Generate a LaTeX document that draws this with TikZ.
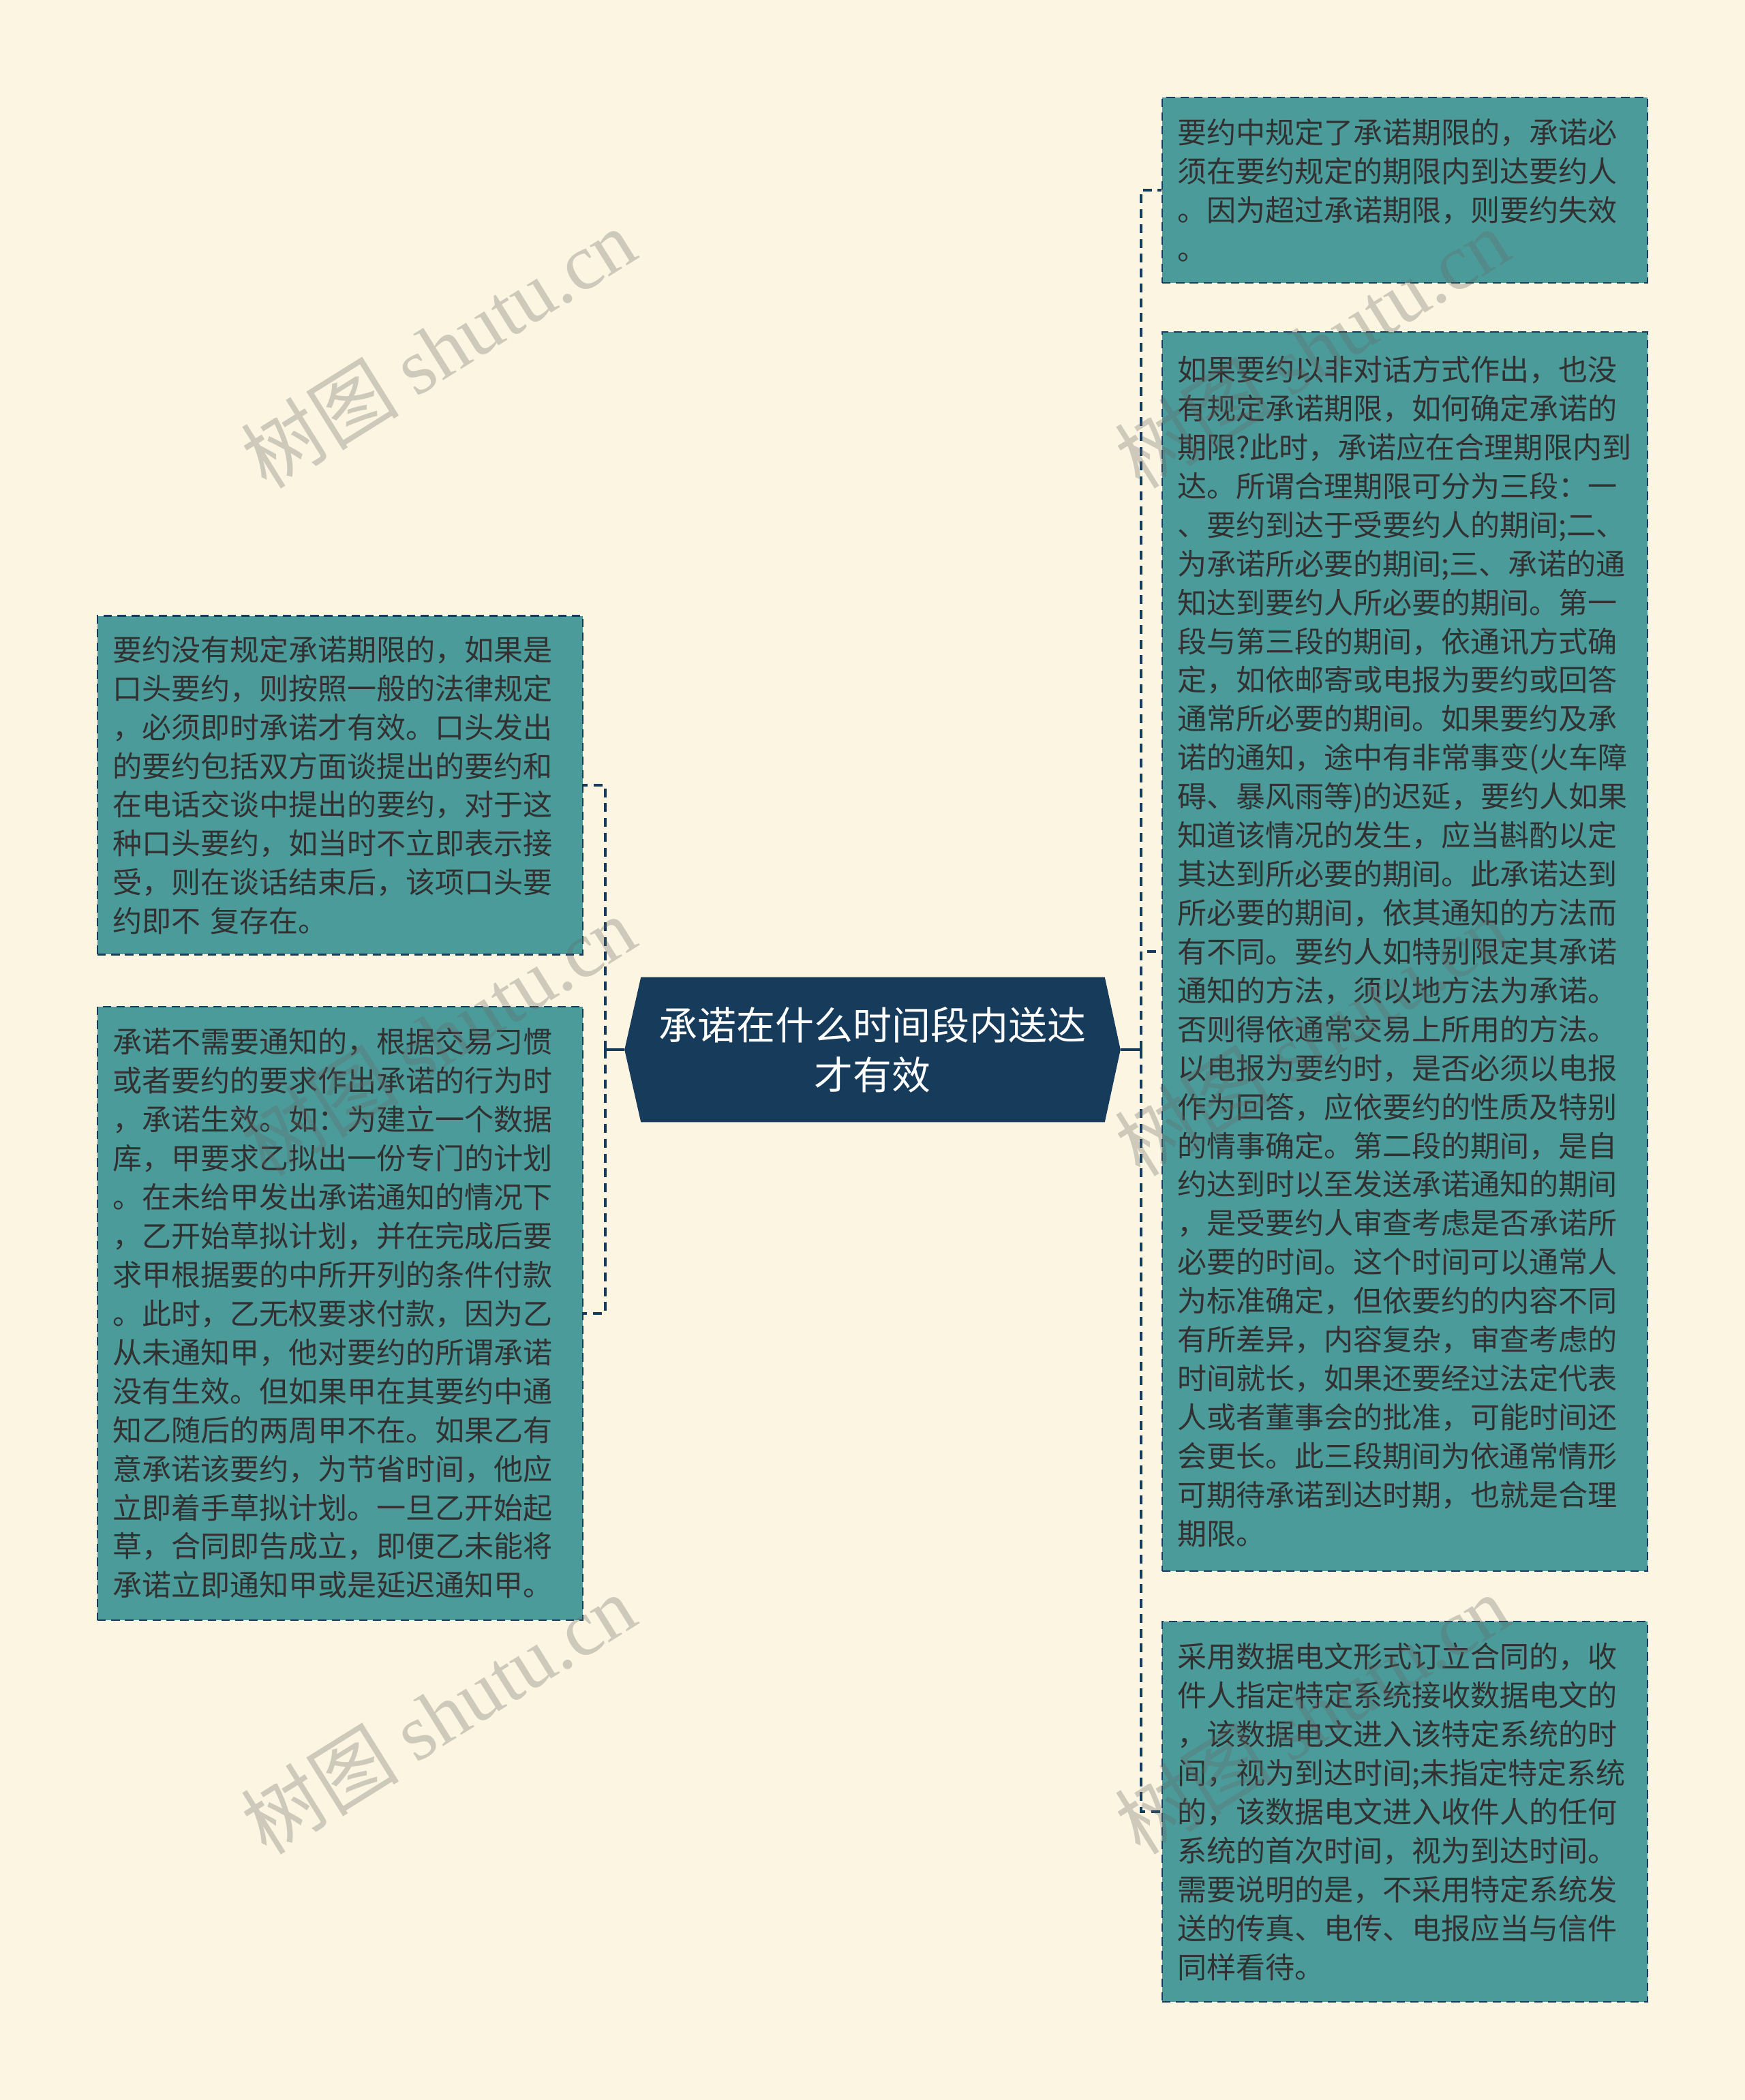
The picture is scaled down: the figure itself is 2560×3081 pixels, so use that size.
\documentclass[tikz,border=0pt]{standalone}
\usepackage{fontspec}
\setmainfont{Noto Sans CJK SC}
\newfontfamily\wmserif{Liberation Serif}
\usetikzlibrary{backgrounds}
\definecolor{paper}{HTML}{FBF5E1}
\definecolor{navy}{HTML}{173B5B}
\definecolor{boxteal}{HTML}{4C9B9B}
\definecolor{ink}{HTML}{313131}
\definecolor{wmgray}{HTML}{646464}

\begin{document}
\begin{tikzpicture}[x=0.02cm,y=-0.02cm,
	leaf/.style={draw=navy,line width=1.4pt,dash pattern=on 7pt off 4.5pt,fill=boxteal,text=ink,
		text width=13.36cm,align=left,inner xsep=0.44cm,inner ysep=0pt,
		font=\fontsize{24.5pt}{32.4pt}\selectfont},
	root/.style={text=white,text width=13cm,align=center,inner sep=0pt,
		minimum width=14.54cm,minimum height=4.24cm,
		font=\fontsize{32.4pt}{41.5pt}\selectfont},
	stem/.style={draw=navy,line width=2.6pt},
	link/.style={draw=navy,line width=2.6pt,dash pattern=on 7.4pt off 5pt},
	wmark/.style={text=wmgray,opacity=0.3,rotate=32,font=\fontsize{66pt}{70pt}\selectfont}]
	    \node[root] (root) at (1280,1540) {承诺在什么时间段内送达\\才有效};
	    \node[leaf,minimum height=5.44cm] (r1) at (2061,279) {要约中规定了承诺期限的，承诺必\\
须在要约规定的期限内到达要约人\\
。因为超过承诺期限，则要约失效\\
。};
	    \node[leaf,minimum height=36.36cm] (r2) at (2061,1396) {如果要约以非对话方式作出，也没\\
有规定承诺期限，如何确定承诺的\\
期限?此时，承诺应在合理期限内到\\
达。所谓合理期限可分为三段：一\\
、要约到达于受要约人的期间;二、\\
为承诺所必要的期间;三、承诺的通\\
知达到要约人所必要的期间。第一\\
段与第三段的期间，依通讯方式确\\
定，如依邮寄或电报为要约或回答\\
通常所必要的期间。如果要约及承\\
诺的通知，途中有非常事变(火车障\\
碍、暴风雨等)的迟延，要约人如果\\
知道该情况的发生，应当斟酌以定\\
其达到所必要的期间。此承诺达到\\
所必要的期间，依其通知的方法而\\
有不同。要约人如特别限定其承诺\\
通知的方法，须以地方法为承诺。\\
否则得依通常交易上所用的方法。\\
以电报为要约时，是否必须以电报\\
作为回答，应依要约的性质及特别\\
的情事确定。第二段的期间，是自\\
约达到时以至发送承诺通知的期间\\
，是受要约人审查考虑是否承诺所\\
必要的时间。这个时间可以通常人\\
为标准确定，但依要约的内容不同\\
有所差异，内容复杂，审查考虑的\\
时间就长，如果还要经过法定代表\\
人或者董事会的批准，可能时间还\\
会更长。此三段期间为依通常情形\\
可期待承诺到达时期，也就是合理\\
期限。};
	    \node[leaf,minimum height=11.16cm] (r3) at (2061,2658) {采用数据电文形式订立合同的，收\\
件人指定特定系统接收数据电文的\\
，该数据电文进入该特定系统的时\\
间，视为到达时间;未指定特定系统\\
的，该数据电文进入收件人的任何\\
系统的首次时间，视为到达时间。\\
需要说明的是，不采用特定系统发\\
送的传真、电传、电报应当与信件\\
同样看待。};
	    \node[leaf,minimum height=9.94cm] (l1) at (499,1152) {要约没有规定承诺期限的，如果是\\
口头要约，则按照一般的法律规定\\
，必须即时承诺才有效。口头发出\\
的要约包括双方面谈提出的要约和\\
在电话交谈中提出的要约，对于这\\
种口头要约，如当时不立即表示接\\
受，则在谈话结束后，该项口头要\\
约即不 复存在。};
	    \node[leaf,minimum height=18cm] (l2) at (499,1927) {承诺不需要通知的，根据交易习惯\\
或者要约的要求作出承诺的行为时\\
，承诺生效。如：为建立一个数据\\
库，甲要求乙拟出一份专门的计划\\
。在未给甲发出承诺通知的情况下\\
，乙开始草拟计划，并在完成后要\\
求甲根据要的中所开列的条件付款\\
。此时，乙无权要求付款，因为乙\\
从未通知甲，他对要约的所谓承诺\\
没有生效。但如果甲在其要约中通\\
知乙随后的两周甲不在。如果乙有\\
意承诺该要约，为节省时间，他应\\
立即着手草拟计划。一旦乙开始起\\
草，合同即告成立，即便乙未能将\\
承诺立即通知甲或是延迟通知甲。};
	    \coordinate (rspine) at (1674,1540);
	    \coordinate (lspine) at (888,1540);
	    \draw[stem] (root.east) -- (rspine);
	    \draw[stem] (root.west) -- (lspine);
	    \draw[link] (rspine) |- (r1.west);
	    \draw[link] (rspine) |- (r2.west);
	    \draw[link] (rspine) |- (r3.west);
	    \draw[link] (lspine) |- (l1.east);
	    \draw[link] (lspine) |- (l2.east);
	    \begin{scope}[on background layer]
		\fill[paper] (0,0) rectangle (2560,3081);
		\fill[navy] (root.west) -- ([xshift=0.48cm]root.north west) -- ([xshift=-0.46cm]root.north east)
		    -- (root.east) -- ([xshift=-0.46cm]root.south east) -- ([xshift=0.48cm]root.south west) -- cycle;
	    \end{scope}
	    \node[wmark] (wm1) at (643,511) {树图 {\wmserif shutu.cn}};
	    \node[wmark] (wm2) at (1925,511) {树图 {\wmserif shutu.cn}};
	    \node[wmark] (wm3) at (643,1520) {树图 {\wmserif shutu.cn}};
	    \node[wmark] (wm4) at (1925,1520) {树图 {\wmserif shutu.cn}};
	    \node[wmark] (wm5) at (643,2515) {树图 {\wmserif shutu.cn}};
	    \node[wmark] (wm6) at (1925,2515) {树图 {\wmserif shutu.cn}};
	\end{tikzpicture}
\end{document}
